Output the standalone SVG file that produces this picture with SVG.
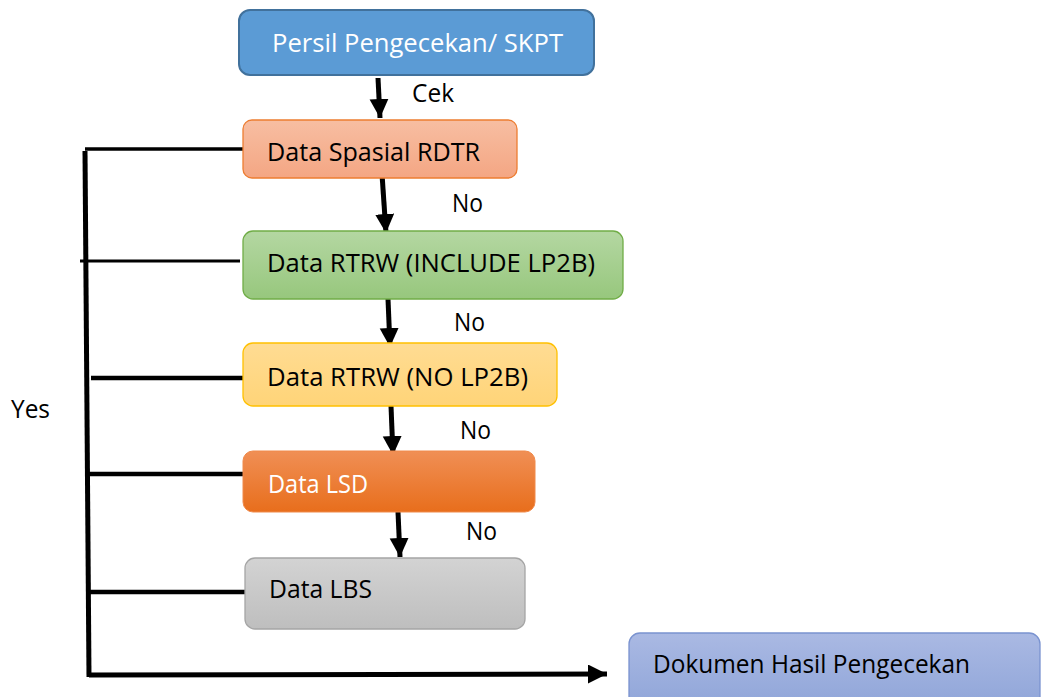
<svg xmlns="http://www.w3.org/2000/svg" width="1041" height="697" viewBox="0 0 1041 697">
<style>
.lbl{font-family:"Open Sans","Noto Sans",sans-serif;font-size:26px;fill:#000}
.wht{fill:#fff}
.ln{stroke:#000;fill:none;stroke-linecap:butt}
</style>
<defs>
<linearGradient id="gS" x1="0" y1="0" x2="0" y2="1"><stop offset="0" stop-color="#F7BEA2"/><stop offset="1" stop-color="#F4A683"/></linearGradient>
<linearGradient id="gG" x1="0" y1="0" x2="0" y2="1"><stop offset="0" stop-color="#B4D7A2"/><stop offset="1" stop-color="#97C77D"/></linearGradient>
<linearGradient id="gY" x1="0" y1="0" x2="0" y2="1"><stop offset="0" stop-color="#FFDC93"/><stop offset="1" stop-color="#FFD478"/></linearGradient>
<linearGradient id="gO" x1="0" y1="0" x2="0" y2="1"><stop offset="0" stop-color="#F08F55"/><stop offset="1" stop-color="#E86E1C"/></linearGradient>
<linearGradient id="gL" x1="0" y1="0" x2="0" y2="1"><stop offset="0" stop-color="#D3D3D3"/><stop offset="1" stop-color="#BEBEBE"/></linearGradient>
<linearGradient id="gD" x1="0" y1="0" x2="0" y2="1"><stop offset="0" stop-color="#AAB9E3"/><stop offset="1" stop-color="#8EA4D8"/></linearGradient>
<marker id="ah" markerUnits="userSpaceOnUse" markerWidth="22" markerHeight="22" refX="19" refY="9.5" orient="auto"><path d="M0,0 L19,9.5 L0,19 Z" fill="#000"/></marker>
</defs>

<g id="connectors">
<line class="ln" x1="378" y1="78" x2="380" y2="118" stroke-width="5" marker-end="url(#ah)"/>
<line class="ln" x1="382" y1="174" x2="386" y2="233" stroke-width="5" marker-end="url(#ah)"/>
<line class="ln" x1="388" y1="299" x2="390" y2="347" stroke-width="5" marker-end="url(#ah)"/>
<line class="ln" x1="391" y1="406" x2="393" y2="455" stroke-width="5" marker-end="url(#ah)"/>
<line class="ln" x1="398" y1="512" x2="400" y2="557" stroke-width="5" marker-end="url(#ah)"/>
<line class="ln" x1="85" y1="149" x2="243" y2="149" stroke-width="3.5"/>
<line class="ln" x1="85" y1="151" x2="89" y2="677" stroke-width="5"/>
<line class="ln" x1="80" y1="261" x2="240" y2="261" stroke-width="3"/>
<line class="ln" x1="91" y1="378" x2="243" y2="378" stroke-width="4.5"/>
<line class="ln" x1="88" y1="474" x2="245" y2="474" stroke-width="4.5"/>
<line class="ln" x1="89" y1="592" x2="250" y2="592" stroke-width="4.5"/>
<line class="ln" x1="89" y1="675" x2="607" y2="674" stroke-width="5" marker-end="url(#ah)"/>
</g>

<g id="n-persil">
<rect x="239" y="10" width="355" height="65" rx="11" fill="#5B9BD5" stroke="#41719C" stroke-width="2"/>
<text class="lbl wht" x="272" y="52" textLength="291" lengthAdjust="spacingAndGlyphs">Persil Pengecekan/ SKPT</text>
</g>
<g id="n-spasial">
<rect x="243" y="120" width="274" height="58" rx="9" fill="url(#gS)" stroke="#ED7D31" stroke-width="1.3"/>
<text class="lbl" x="267" y="161" textLength="213" lengthAdjust="spacingAndGlyphs">Data Spasial RDTR</text>
</g>
<g id="n-rtrw-inc">
<rect x="243" y="231" width="380" height="68" rx="10" fill="url(#gG)" stroke="#70AD47" stroke-width="1.3"/>
<text class="lbl" x="267" y="272" textLength="328" lengthAdjust="spacingAndGlyphs">Data RTRW (INCLUDE LP2B)</text>
</g>
<g id="n-rtrw-no">
<rect x="243" y="343" width="314" height="63" rx="10" fill="url(#gY)" stroke="#FFC000" stroke-width="1.3"/>
<text class="lbl" x="267" y="386" textLength="261" lengthAdjust="spacingAndGlyphs">Data RTRW (NO LP2B)</text>
</g>
<g id="n-lsd">
<rect x="243" y="451" width="292" height="61" rx="10" fill="url(#gO)" stroke="#F08A4B" stroke-width="1"/>
<text class="lbl wht" x="268" y="493" textLength="100" lengthAdjust="spacingAndGlyphs">Data LSD</text>
</g>
<g id="n-lbs">
<rect x="245" y="558" width="280" height="71" rx="10" fill="url(#gL)" stroke="#A5A5A5" stroke-width="1.3"/>
<text class="lbl" x="269" y="598" textLength="103" lengthAdjust="spacingAndGlyphs">Data LBS</text>
</g>
<g id="n-dokumen">
<rect x="629" y="633" width="411" height="80" rx="11" fill="url(#gD)" stroke="#7A93D0" stroke-width="1.3"/>
<text class="lbl" x="653" y="673" textLength="317" lengthAdjust="spacingAndGlyphs">Dokumen Hasil Pengecekan</text>
</g>

<g id="labels">
<text class="lbl" x="412" y="102" textLength="42" lengthAdjust="spacingAndGlyphs">Cek</text>
<text class="lbl" x="452" y="212" textLength="31" lengthAdjust="spacingAndGlyphs">No</text>
<text class="lbl" x="454" y="331" textLength="31" lengthAdjust="spacingAndGlyphs">No</text>
<text class="lbl" x="460" y="439" textLength="31" lengthAdjust="spacingAndGlyphs">No</text>
<text class="lbl" x="466" y="540" textLength="31" lengthAdjust="spacingAndGlyphs">No</text>
<text class="lbl" x="11" y="418" textLength="39" lengthAdjust="spacingAndGlyphs">Yes</text>
</g>
</svg>
